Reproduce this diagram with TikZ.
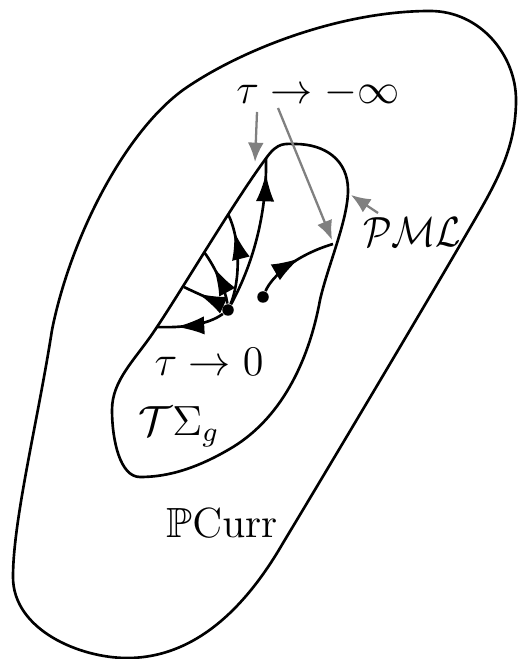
\documentclass[tikz,border=0pt]{standalone}
\usepackage{amsmath,amssymb}
\usetikzlibrary{arrows.meta, decorations.markings}

\begin{document}
\begin{tikzpicture}[x=0.01cm, y=-0.01cm, font=\large,
    region/.style={line width=0.75pt},
    flow/.style={line width=0.75pt, postaction={decorate},
        decoration={markings, mark=at position #1 with {\arrow{Latex[length=8pt,width=5.2pt]}}}},
    pointer/.style={gray, line width=0.65pt, -{Latex[length=5.5pt,width=4.5pt]}},
    dot/.style={circle, fill, inner sep=0pt, minimum size=1.15mm}]
    \useasboundingbox (0,0) rectangle (518,659);

    % projectivized currents
    \draw[region] (52,330) .. controls (70,240) and (123,134) .. (183,90)
        .. controls (240,50) and (340,11) .. (430,11)
        .. controls (480,11) and (516,55) .. (516,100)
        .. controls (516,150) and (495,185) .. (467,233)
        .. controls (430,297) and (330,465) .. (283,543)
        .. controls (250,600) and (200,658) .. (127,658)
        .. controls (80,658) and (13,630) .. (13,577)
        .. controls (13,520) and (38,420) .. cycle;

    % Teichmueller space
    \draw[region] (155,330) .. controls (185,285) and (235,200) .. (267,157)
        .. controls (278,142) and (285,144) .. (295,144)
        .. controls (325,144) and (348,160) .. (348,190)
        .. controls (348,220) and (328,265) .. (320,300)
        .. controls (310,355) and (285,415) .. (233,447)
        .. controls (190,473) and (160,477) .. (140,477)
        .. controls (120,477) and (112,440) .. (112,410)
        .. controls (112,380) and (135,360) .. cycle;

    \node (minf) at (318,93) {$\tau\to-\infty$};
    \node (zero) at (209,362) {$\tau\to0$};
    \node (teich) at (179,427) {$\mathcal{T}\Sigma_g$};
    \node (pml) at (412,232) {\scalebox{0.87}[1]{$\mathcal{PML}$}};
    \node (pcurr) at (222,523) {$\mathbb{P}\mathrm{Curr}$};

    \node[dot] (src) at (228,310) {};
    \node[dot] (src2) at (263,297) {};

    \coordinate (hitA) at (266,158);
    \coordinate (hitB) at (228,214);
    \coordinate (hitC) at (204,252);
    \coordinate (hitD) at (184,287);
    \coordinate (hitE) at (157,327);
    \coordinate (hitF) at (333,244);

    \draw[flow=0.9] (src) .. controls (255,260) and (267,210) .. (hitA);
    \draw[flow=0.8] (src) .. controls (240,282) and (241,240) .. (hitB);
    \draw[flow=0.68] (src) .. controls (226,292) and (216,268) .. (hitC);
    \draw[flow=0.64] (src) .. controls (214,300) and (198,294) .. (hitD);
    \draw[flow=0.72] (src) .. controls (208,325) and (182,328) .. (hitE);
    \draw[flow=0.57] (src2) .. controls (272,276) and (296,255) .. (hitF);

    \coordinate (tauA) at (257,112);
    \coordinate (tauB) at (278,108);
    \coordinate (pmlA) at (378,213);
    \draw[pointer] (tauA) -- (255,162);
    \draw[pointer] (tauB) -- (332,240);
    \draw[pointer] (pmlA) -- (351,195);
\end{tikzpicture}
\end{document}
